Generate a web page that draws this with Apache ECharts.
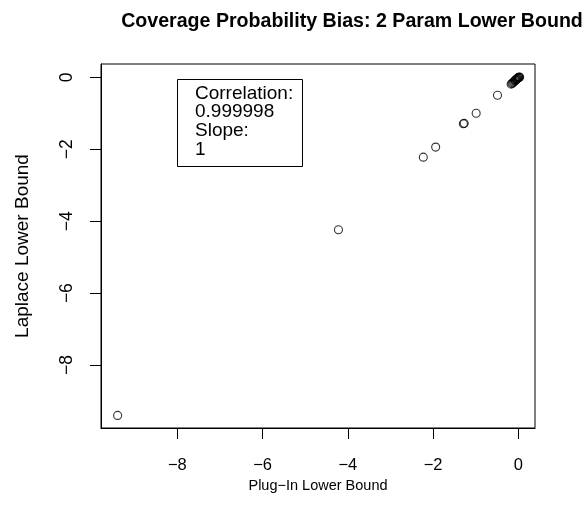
<!DOCTYPE html>
<html>
<head>
<meta charset="utf-8">
<script src="https://cdn.jsdelivr.net/npm/echarts@6/dist/echarts.min.js"></script>
<style>
  html, body { margin: 0; padding: 0; background: #fff; }
  #chart { width: 586px; height: 527px; }
</style>
</head>
<body>
<div id="chart"></div>
<script>
// ---- data ----
const chartTitle = "Coverage Probability Bias: 2 Param Lower Bound";
const xAxisTitle = "Plug\u2212In Lower Bound";
const yAxisTitle = "Laplace Lower Bound";
const plugInLower = [-9.40, -4.22, -2.23, -1.94, -1.29, -1.27, -0.99, -0.49,
  -0.17, -0.15, -0.13, -0.11, -0.09, -0.08, -0.07, -0.06, -0.05, -0.04, -0.03, -0.02, -0.01, 0.00, 0.01, 0.02, 0.03];
const laplaceLower = [-9.40, -4.24, -2.22, -1.94, -1.29, -1.28, -1.00, -0.50,
  -0.19, -0.17, -0.15, -0.13, -0.11, -0.09, -0.08, -0.07, -0.06, -0.05, -0.04, -0.03, -0.02, -0.01, 0.00, 0.00, 0.01];
const xTicks = [-8, -6, -4, -2, 0];
const yTicks = [-8, -6, -4, -2, 0];
const annotationLines = ["Correlation:", "0.999998", "Slope:", "1"];

const points = plugInLower.map((x, i) => [x, laplaceLower[i]]);
const fmt = v => String(v).replace('-', '\u2212');
const FONT = "'Liberation Sans', Arial, sans-serif";

const chart = echarts.init(document.getElementById('chart'), null, { renderer: 'canvas' });
chart.setOption({
  backgroundColor: '#ffffff',
  animation: false,
  title: {
    text: chartTitle,
    left: 347, top: 7, textAlign: 'center',
    textStyle: { fontFamily: FONT, fontWeight: 'bold', fontSize: 19.6, color: '#000' }
  },
  grid: {
    left: 101, right: 51, top: 64, bottom: 99,
    show: true, borderColor: '#000', borderWidth: 1, backgroundColor: 'transparent'
  },
  xAxis: {
    type: 'value', min: -9.79, max: 0.39,
    name: xAxisTitle, nameLocation: 'middle', nameGap: 43,
    nameTextStyle: { fontFamily: FONT, fontSize: 14.5, color: '#000' },
    axisLine: { show: true, onZero: false, lineStyle: { color: '#000', width: 1 } },
    splitLine: { show: false },
    axisTick: { show: true, customValues: xTicks, length: 11, inside: false, lineStyle: { color: '#000', width: 1 } },
    axisLabel: { customValues: xTicks, formatter: fmt, margin: 29, fontFamily: FONT, fontSize: 16.5, color: '#000' }
  },
  yAxis: {
    type: 'value', min: -9.75, max: 0.37,
    name: yAxisTitle, nameLocation: 'middle', nameGap: 69, nameRotate: 90,
    nameTextStyle: { fontFamily: FONT, fontSize: 19, color: '#000' },
    axisLine: { show: true, onZero: false, lineStyle: { color: '#000', width: 1 } },
    splitLine: { show: false },
    axisTick: { show: true, customValues: yTicks, length: 11, inside: false, lineStyle: { color: '#000', width: 1 } },
    axisLabel: { customValues: yTicks, formatter: fmt, rotate: 90, margin: 25, fontFamily: FONT, fontSize: 17.5, color: '#000' }
  },
  series: [{
    type: 'scatter',
    data: points,
    symbol: 'circle',
    symbolSize: 8,
    itemStyle: { color: 'rgba(0,0,0,0)', borderColor: '#000', borderWidth: 1.1 },
    silent: true
  }],
  graphic: [
    { type: 'rect', shape: { x: 177.5, y: 79.5, width: 125, height: 87 },
      style: { fill: '#fff', stroke: '#000', lineWidth: 1 }, z: 10 },
    { type: 'text', x: 195, y: 84, z: 11,
      style: { text: annotationLines.join('\n'), fontFamily: FONT, fontSize: 19, lineHeight: 18.7, fill: '#000' } }
  ]
});
</script>
</body>
</html>
